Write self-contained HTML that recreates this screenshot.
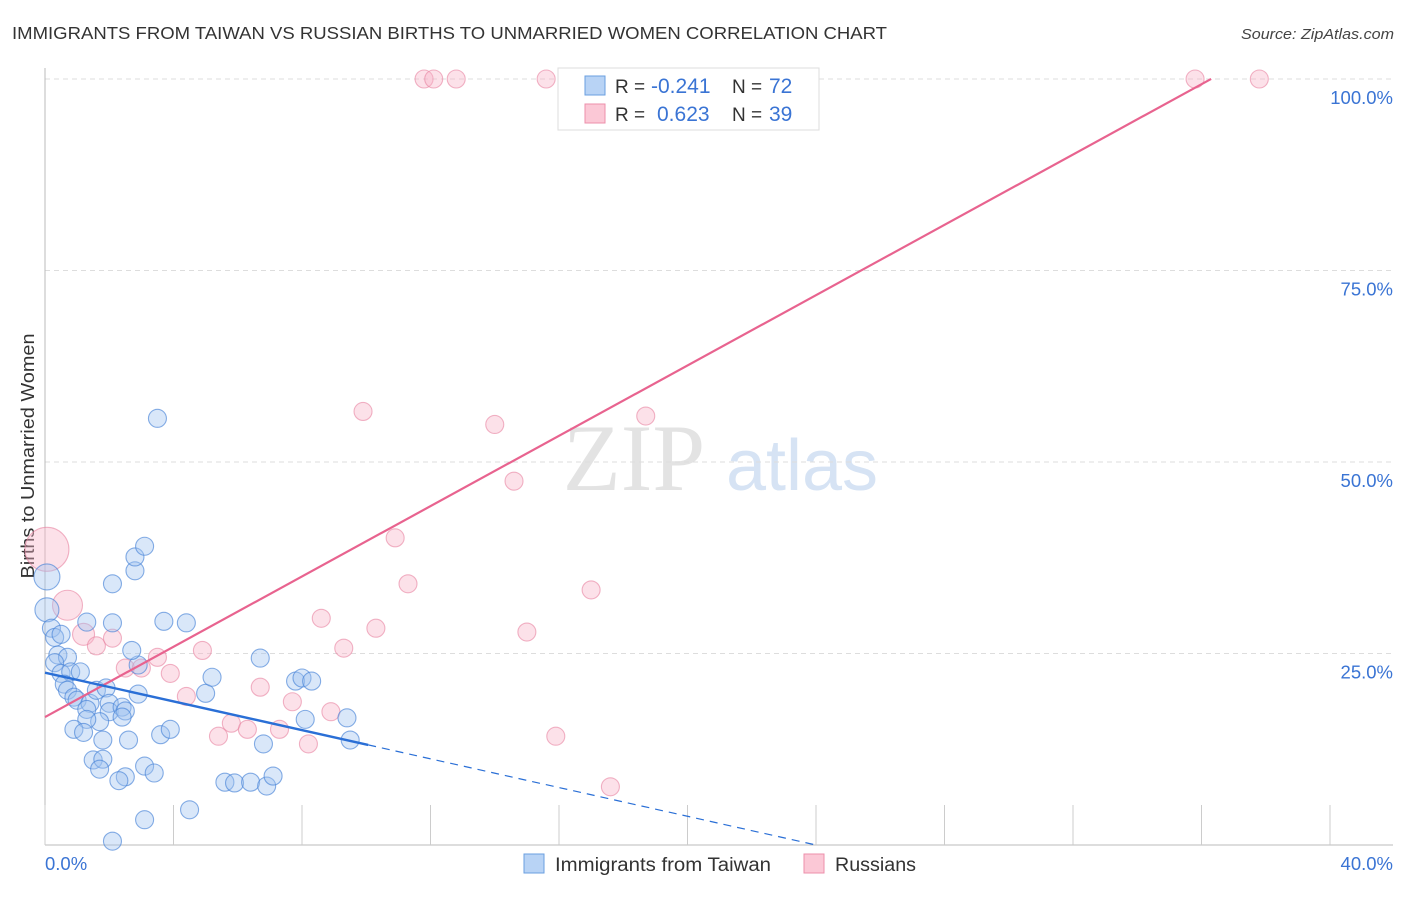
<!DOCTYPE html>
<html><head><meta charset="utf-8"><style>
body{margin:0;background:#fff;font-family:"Liberation Sans",sans-serif;}
</style></head><body>
<svg id="chart" width="1406" height="892" xmlns="http://www.w3.org/2000/svg">
<text x="12" y="39" font-size="17.5" fill="#333" textLength="875" lengthAdjust="spacingAndGlyphs">IMMIGRANTS FROM TAIWAN VS RUSSIAN BIRTHS TO UNMARRIED WOMEN CORRELATION CHART</text>
<text x="1394" y="39" font-size="15" fill="#444" font-style="italic" text-anchor="end" textLength="153" lengthAdjust="spacingAndGlyphs">Source: ZipAtlas.com</text>
<text transform="translate(34,456) rotate(-90)" font-size="18.5" fill="#333" text-anchor="middle" textLength="245" lengthAdjust="spacingAndGlyphs">Births to Unmarried Women</text>
<g>
<text x="634" y="490" font-size="95" fill="#d8d8d8" font-family="Liberation Serif,serif" text-anchor="middle" opacity="0.7">ZIP</text>
<text x="802" y="490" font-size="72" fill="#c5d8f0" text-anchor="middle" opacity="0.7">atlas</text>
</g>
<g id="grid"></g>
<g id="axes"></g>
<g id="marks"></g>
<g>
<rect x="558" y="68" width="261" height="62" fill="#fff" stroke="#ddd"/>
<rect x="585" y="76" width="20" height="19" fill="#b8d3f5" stroke="#6a9fe0"/>
<rect x="585" y="104" width="20" height="19" fill="#fbc8d6" stroke="#ec8fab"/>
<text x="615" y="93" font-size="19" fill="#333">R = <tspan x="651" fill="#3a74d4" font-size="21">-0.241</tspan><tspan x="732">N = </tspan><tspan x="769" fill="#3a74d4" font-size="21">72</tspan></text>
<text x="615" y="121" font-size="19" fill="#333">R = <tspan x="657" fill="#3a74d4" font-size="21">0.623</tspan><tspan x="732">N = </tspan><tspan x="769" fill="#3a74d4" font-size="21">39</tspan></text>
</g>
<g>
<rect x="524" y="854" width="20" height="19" fill="#b8d3f5" stroke="#6a9fe0"/>
<text x="555" y="871" font-size="19" fill="#333" textLength="216" lengthAdjust="spacingAndGlyphs">Immigrants from Taiwan</text>
<rect x="804" y="854" width="20" height="19" fill="#fbc8d6" stroke="#ec8fab"/>
<text x="835" y="871" font-size="19" fill="#333" textLength="81" lengthAdjust="spacingAndGlyphs">Russians</text>
</g>
</svg>
<script>
const yTicks=[25,50,75,100];
const yTickLabels=["25.0%","50.0%","75.0%","100.0%"];
const xTicks=[0,4,8,12,16,20,24,28,32,36,40];
const blueX=[0.06,0.06,0.2,0.3,0.5,0.4,0.7,0.3,0.5,0.8,1.1,0.6,0.7,0.9,1.0,1.4,1.3,1.6,1.9,2.0,2.0,2.4,2.5,2.4,1.7,1.3,0.9,1.2,1.8,2.6,2.9,2.9,2.7,1.3,2.1,2.1,2.8,2.8,3.1,3.5,3.7,4.4,5.0,5.2,3.6,3.9,1.5,1.8,1.7,2.5,2.3,3.1,3.4,3.1,4.5,2.1,5.6,5.9,6.4,6.9,7.1,6.8,6.7,7.8,8.0,8.3,8.1,9.4,9.5];
const blueY=[35.0,30.7,28.3,27.1,27.5,24.8,24.5,23.8,22.4,22.6,22.6,21.0,20.2,19.3,18.9,18.5,17.7,20.2,20.5,18.5,17.4,18.0,17.5,16.7,16.1,16.4,15.1,14.7,13.7,13.7,19.7,23.5,25.4,29.1,29.0,34.1,35.8,37.6,39.0,55.7,29.2,29.0,19.8,21.9,14.4,15.1,11.1,11.2,9.9,8.9,8.4,10.3,9.4,3.3,4.6,0.5,8.2,8.1,8.2,7.7,9.0,13.2,24.4,21.4,21.8,21.4,16.4,16.6,13.7];
const blueR=[13,12,9,9,9,9,9,9,9,9,9,9,9,9,9,9,9,9,9,9,9,9,9,9,9,9,9,9,9,9,9,9,9,9,9,9,9,9,9,9,9,9,9,9,9,9,9,9,9,9,9,9,9,9,9,9,9,9,9,9,9,9,9,9,9,9,9,9,9];
const pinkX=[0.06,0.7,1.2,1.6,2.1,2.5,3.0,3.5,3.9,4.4,4.9,5.4,5.8,6.3,6.7,7.3,7.7,8.2,8.6,8.9,9.3,10.3,10.9,11.3,9.9,14.0,14.6,15.0,15.9,17.0,17.6,18.7,11.8,12.1,12.8,15.6,35.8,37.8,20.5];
const pinkY=[38.6,31.3,27.5,26.0,27.0,23.1,23.1,24.5,22.4,19.4,25.4,14.2,15.9,15.1,20.6,15.1,18.7,13.2,29.6,17.4,25.7,28.3,40.1,34.1,56.6,54.9,47.5,27.8,14.2,33.3,7.6,56.0,100,100,100,100,100,100,100];
const pinkR=[22,15,11,9,9,9,9,9,9,9,9,9,9,9,9,9,9,9,9,9,9,9,9,9,9,9,9,9,9,9,9,9,9,9,9,9,9,9,9];
const blueTrend=[22.5,-0.9375]; // intercept, slope
const blueSolidEnd=10.06, blueDashEnd=24;
const pinkTrend=[16.7,2.295];
const pinkEnd=36.3;
const X=v=>45+v/40*1285, Y=v=>845-v/100*766;
const NS="http://www.w3.org/2000/svg";
function mk(tag,attrs,parent){const e=document.createElementNS(NS,tag);for(const k in attrs)e.setAttribute(k,attrs[k]);parent.appendChild(e);return e;}
const grid=document.getElementById('grid'),axes=document.getElementById('axes'),marks=document.getElementById('marks');
yTicks.forEach((t,i)=>{
 const l=mk('line',{x1:45,x2:1393,y1:Y(t),y2:Y(t),stroke:'#ddd','stroke-dasharray':'5,4'},grid);
 
 
 const tx=mk('text',{x:1393,y:Y(t)+25,'font-size':18.5,fill:'#3a74d4','text-anchor':'end'},axes);
 tx.textContent=yTickLabels[i];
 
 
});
const ax=mk('line',{x1:45,x2:1393,y1:845,y2:845,stroke:'#bbb'},axes);


const ay=mk('line',{x1:45,x2:45,y1:68,y2:845,stroke:'#bbb'},axes);


xTicks.forEach(t=>{
 const l=mk('line',{x1:X(t),x2:X(t),y1:805,y2:845,stroke:'#ccc'},axes);
 
 
});
const x0=mk('text',{x:45,y:870,'font-size':18.5,fill:'#3a74d4'},axes);x0.textContent='0.0%';


const x1=mk('text',{x:1393,y:870,'font-size':18.5,fill:'#3a74d4','text-anchor':'end'},axes);x1.textContent='40.0%';


pinkX.forEach((v,i)=>{
 const c=mk('circle',{cx:X(v),cy:Y(pinkY[i]),r:pinkR[i],fill:'rgba(248,180,200,0.4)',stroke:'rgba(232,130,160,0.6)','stroke-width':1.1},marks);
 
 
});
blueX.forEach((v,i)=>{
 const c=mk('circle',{cx:X(v),cy:Y(blueY[i]),r:blueR[i],fill:'rgba(160,196,240,0.4)',stroke:'rgba(70,130,215,0.65)','stroke-width':1.1},marks);
 
 
});
const pl=mk('line',{x1:X(0),y1:Y(pinkTrend[0]),x2:X(pinkEnd),y2:Y(pinkTrend[0]+pinkTrend[1]*pinkEnd),stroke:'#e8638f','stroke-width':2.2},marks);


const bl=mk('line',{x1:X(0),y1:Y(blueTrend[0]),x2:X(blueSolidEnd),y2:Y(blueTrend[0]+blueTrend[1]*blueSolidEnd),stroke:'#2a6fd6','stroke-width':2.4},marks);


const bd=mk('line',{x1:X(blueSolidEnd),y1:Y(blueTrend[0]+blueTrend[1]*blueSolidEnd),x2:X(blueDashEnd),y2:Y(blueTrend[0]+blueTrend[1]*blueDashEnd),stroke:'#2a6fd6','stroke-width':1.2,'stroke-dasharray':'8,6'},marks);


</script>
</body></html>
